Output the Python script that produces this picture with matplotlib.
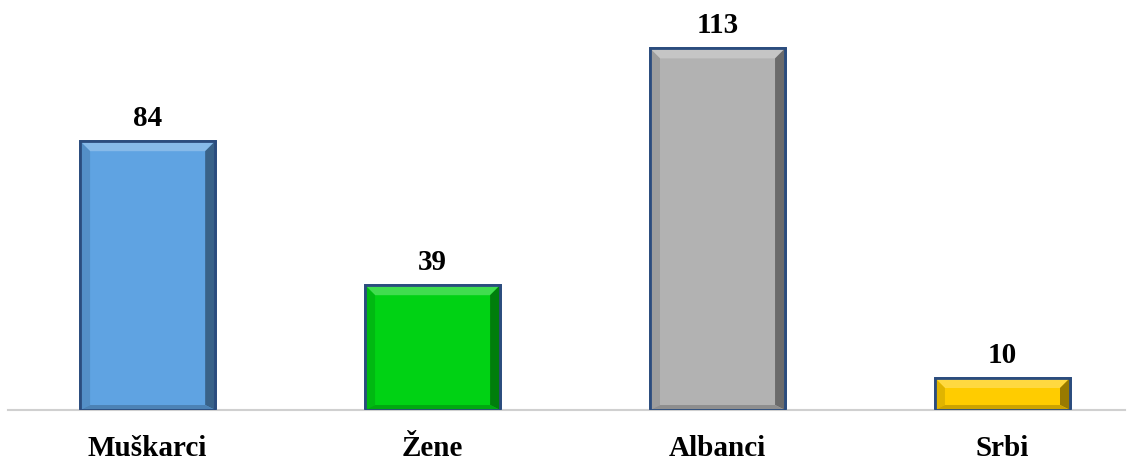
import matplotlib
matplotlib.use("Agg")
import matplotlib.pyplot as plt
from matplotlib.patches import Polygon
from matplotlib.colors import to_rgb
import numpy as np

categories = ["Muškarci", "Žene", "Albanci", "Srbi"]
values = [84, 39, 113, 10]
colors = ["#5FA3E2", "#00D214", "#B2B2B2", "#FFCC00"]

W, H = 1133, 462
fig = plt.figure(figsize=(W / 100, H / 100), dpi=100)
ax_left, ax_right = 8, 1125
ax_bottom, ax_top = 410, 26
ax = fig.add_axes([ax_left / W, (H - ax_bottom) / H, (ax_right - ax_left) / W, (ax_bottom - ax_top) / H])

x = np.arange(len(categories))
width = 0.474
ymax = 120
ax.set_xlim(-0.49, 3.43)
ax.set_ylim(0, ymax)

bars = ax.bar(x, values, width=width, color=colors, edgecolor="#2B4C7E", linewidth=2, zorder=2)

# bevel effect
px_per_x = (ax_right - ax_left) / (3.43 + 0.49)
px_per_y = (ax_bottom - ax_top) / ymax
bx = 10 / px_per_x
by = 10 / px_per_y

def shade(c, f):
    r = np.array(to_rgb(c))
    if f > 0:
        return tuple(r + (1 - r) * f)
    return tuple(r * (1 + f))

for b, c in zip(bars, colors):
    x0, x1 = b.get_x(), b.get_x() + b.get_width()
    y0, y1 = 0, b.get_height()
    byy = min(by, (y1 - y0) / 2.5)
    bxx = min(bx, (x1 - x0) / 2)
    ix0, ix1, iy0, iy1 = x0 + bxx, x1 - bxx, y0 + byy * 0.5, y1 - byy
    polys = [
        ([(x0, y1), (x1, y1), (ix1, iy1), (ix0, iy1)], shade(c, 0.25)),
        ([(x1, y1), (x1, y0), (ix1, iy0), (ix1, iy1)], shade(c, -0.4)),
        ([(x0, y1), (ix0, iy1), (ix0, iy0), (x0, y0)], shade(c, -0.12)),
        ([(x0, y0), (ix0, iy0), (ix1, iy0), (x1, y0)], shade(c, -0.2)),
    ]
    for pts, col in polys:
        ax.add_patch(Polygon(pts, closed=True, facecolor=col, edgecolor="none", zorder=3))
    ax.add_patch(plt.Rectangle((x0, y0), x1 - x0, y1 - y0, fill=False,
                               edgecolor="#2B4C7E", linewidth=2, zorder=4))

for xi, v in zip(x, values):
    ax.text(xi, v + 15 / px_per_y, str(v), ha="center", va="baseline",
            fontsize=21, fontweight="bold", family="Liberation Serif", color="black")

for s in ["top", "right", "left"]:
    ax.spines[s].set_visible(False)
ax.spines["bottom"].set_color("#D0D0D0")
ax.spines["bottom"].set_linewidth(1.5)
ax.set_yticks([])
ax.set_xticks(x)
ax.set_xticklabels(categories, fontsize=21, fontweight="bold", family="Liberation Serif")
ax.tick_params(axis="x", length=0, pad=18)

fig.savefig("out.png", dpi=100)
